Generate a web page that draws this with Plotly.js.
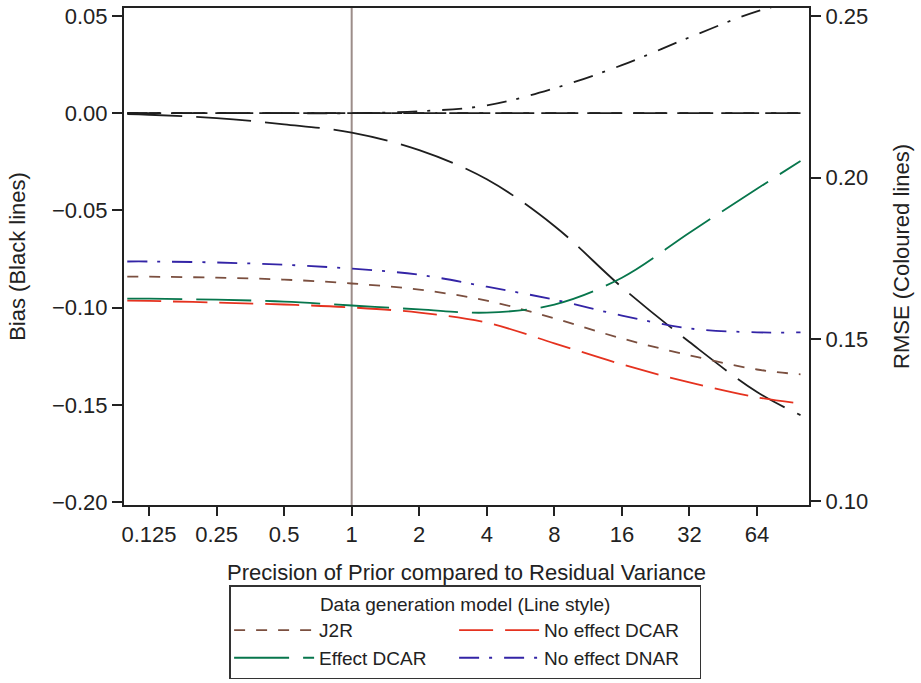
<!DOCTYPE html>
<html>
<head>
<meta charset="utf-8">
<script src="https://cdn.plot.ly/plotly-3.0.1.min.js"></script>
<style>html,body{margin:0;padding:0;background:#fff;}#chart{width:921px;height:683px;}</style>
</head>
<body>
<div id="chart"></div>
<script>
// Precision of prior relative to residual variance
const precision = [0.1, 0.125, 0.25, 0.5, 1, 2, 4, 8, 16, 32, 64, 100];
const tickVals = [0.125, 0.25, 0.5, 1, 2, 4, 8, 16, 32, 64];
const tickText = ["0.125", "0.25", "0.5", "1", "2", "4", "8", "16", "32", "64"];

// Bias (black lines, left axis)
const biasJ2R          = [0, 0, 0, 0, 0, 0, 0, 0, 0, 0, 0, 0];
const biasNoEffectDCAR = [0, 0, 0, 0, 0, 0, 0, 0, 0, 0, 0, 0];
const biasEffectDCAR   = [-0.0005, -0.0008, -0.0025, -0.0057, -0.0100, -0.0190, -0.0340, -0.0580, -0.0895, -0.1177, -0.1434, -0.1553];
const biasNoEffectDNAR = [0, 0, 0, 0, 0, 0.001, 0.004, 0.0128, 0.0247, 0.0390, 0.0524, 0.0580];

// RMSE (coloured lines, right axis)
const rmseJ2R          = [0.1694, 0.1694, 0.1691, 0.1685, 0.1673, 0.1654, 0.1620, 0.1565, 0.1503, 0.1451, 0.1407, 0.1392];
const rmseNoEffectDCAR = [0.1620, 0.1619, 0.1614, 0.1608, 0.1599, 0.1583, 0.1552, 0.1488, 0.1423, 0.1367, 0.1321, 0.1302];
const rmseEffectDCAR   = [0.1626, 0.1626, 0.1623, 0.1617, 0.1605, 0.1593, 0.1583, 0.1608, 0.1691, 0.1830, 0.1966, 0.2052];
const rmseNoEffectDNAR = [0.1741, 0.1741, 0.1738, 0.1731, 0.1719, 0.1700, 0.1663, 0.1623, 0.1574, 0.1534, 0.1522, 0.1522];

const names = ["J2R", "No effect DCAR", "Effect DCAR", "No effect DNAR"];
const legendColumns = ["col1", "col2", "col1", "col2"];
const legendWidths = [130, 150, 130, 150];
const colours = ["#7b4f3f", "#e5321f", "#07764c", "#3324a6"];
const dashes = ["11px,11px", "34px,12px", "55px,14px", "20px,10px,3px,12px"];
const biasData = [biasJ2R, biasNoEffectDCAR, biasEffectDCAR, biasNoEffectDNAR];
const rmseData = [rmseJ2R, rmseNoEffectDCAR, rmseEffectDCAR, rmseNoEffectDNAR];

const traces = [];
for (let i = 0; i < 4; i++) {
  traces.push({
    x: precision, y: biasData[i], yaxis: "y", type: "scatter", mode: "lines",
    line: {color: "#1e1e1e", width: 1.8, dash: dashes[i], shape: "spline", smoothing: 1},
    showlegend: false, hoverinfo: "skip"
  });
}
for (let i = 0; i < 4; i++) {
  traces.push({
    x: precision, y: rmseData[i], yaxis: "y2", type: "scatter", mode: "lines",
    name: names[i], legendgroup: legendColumns[i], legendwidth: legendWidths[i],
    line: {color: colours[i], width: 1.8, dash: dashes[i], shape: "spline", smoothing: 1}
  });
}

const font = {family: "Liberation Sans, Arial, sans-serif", size: 22, color: "#222"};
const layout = {
  width: 921, height: 683,
  margin: {l: 124, r: 112, t: 8, b: 178},
  paper_bgcolor: "#fff", plot_bgcolor: "#fff",
  font: font,
  showlegend: true,
  xaxis: {
    type: "log", automargin: false,
    range: [Math.log10(0.0967), Math.log10(109.1)],
    tickvals: tickVals, ticktext: tickText,
    showgrid: false, zeroline: false,
    showline: true, linecolor: "#222", linewidth: 2, mirror: true,
    ticks: "outside", ticklen: 9, tickwidth: 2, tickcolor: "#222",
    tickfont: {size: 22},
    title: {text: "Precision of Prior compared to Residual Variance", font: {size: 22}, standoff: 19}
  },
  yaxis: {
    automargin: false,
    range: [-0.2015, 0.0541],
    tickvals: [-0.20, -0.15, -0.10, -0.05, 0.00, 0.05],
    tickformat: ".2f",
    showgrid: false, zeroline: false,
    showline: true, linecolor: "#222", linewidth: 2,
    ticks: "outside", ticklen: 10, tickwidth: 2, tickcolor: "#222",
    tickfont: {size: 22},
    title: {text: "Bias (Black lines)", font: {size: 22}, standoff: 20}
  },
  yaxis2: {
    automargin: false,
    overlaying: "y", side: "right",
    range: [0.0988, 0.2525],
    tickvals: [0.10, 0.15, 0.20, 0.25],
    tickformat: ".2f",
    showgrid: false, zeroline: false,
    showline: true, linecolor: "#222", linewidth: 2,
    ticks: "outside", ticklen: 10, tickwidth: 2, tickcolor: "#222",
    tickfont: {size: 22},
    title: {text: "RMSE (Coloured lines)", font: {size: 22}, standoff: 26}
  },
  shapes: [{
    type: "line", xref: "x", yref: "paper", x0: 1, x1: 1, y0: 0, y1: 1,
    line: {color: "#9c8d89", width: 2}, layer: "below"
  }],
  legend: {
    orientation: "h",
    traceorder: "grouped",
    xref: "container", yref: "container",
    x: 0.505, xanchor: "center",
    y: 1 - 585 / 683, yanchor: "top",
    bordercolor: "#333", borderwidth: 1.5, bgcolor: "#fff",
    itemwidth: 80,
    tracegroupgap: 0,
    font: {size: 19},
    title: {text: "Data generation model (Line style)", side: "top center", font: {size: 19}}
  }
};

Plotly.newPlot("chart", traces, layout, {displayModeBar: false, staticPlot: true});
</script>
</body>
</html>
